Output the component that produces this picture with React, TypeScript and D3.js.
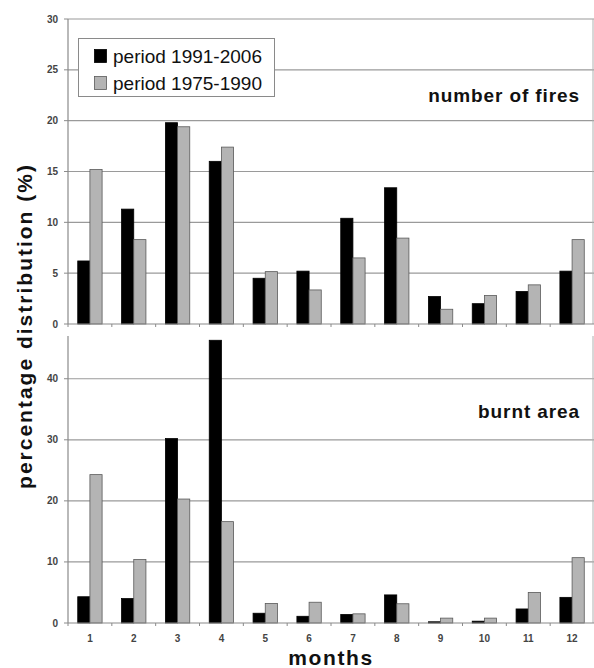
import React from "react";
import * as d3 from "d3";

const months = ["1", "2", "3", "4", "5", "6", "7", "8", "9", "10", "11", "12"];
const seriesNames = ["period 1991-2006", "period 1975-1990"];
const seriesColors = ["#000000", "#b4b4b4"];
const seriesStrokes = ["#000000", "#5a5a5a"];

// number of fires (%)
const firesRecent = [6.2, 11.3, 19.8, 16.0, 4.5, 5.2, 10.4, 13.4, 2.7, 2.0, 3.2, 5.2];
const firesEarlier = [15.2, 8.3, 19.4, 17.4, 5.15, 3.35, 6.5, 8.45, 1.45, 2.8, 3.85, 8.3];

// burnt area (%)
const areaRecent = [4.3, 4.0, 30.2, 46.3, 1.6, 1.1, 1.4, 4.6, 0.2, 0.3, 2.3, 4.2];
const areaEarlier = [24.3, 10.4, 20.3, 16.6, 3.2, 3.4, 1.5, 3.15, 0.8, 0.8, 5.0, 10.7];

const topTicks = [0, 5, 10, 15, 20, 25, 30];
const bottomTicks = [0, 10, 20, 30, 40];

const W = 594;
const H = 668;
const left = 68;
const right = 594;

const x = d3.scaleBand<string>().domain(months).range([left, right]).padding(0);
const xInner = d3
  .scaleBand<number>()
  .domain([0, 1])
  .range([0, x.bandwidth()])
  .paddingOuter(0.8)
  .paddingInner(0);

const yTop = d3.scaleLinear().domain([0, 30]).range([324, 19]);
const yBot = d3.scaleLinear().domain([0, 47]).range([623, 336]);

const font = "'Liberation Sans', Arial, sans-serif";

type PanelProps = {
  y: d3.ScaleLinear<number, number>;
  ticks: number[];
  data: number[][];
  title: string;
  titleY: number;
  showMonthLabels: boolean;
};

function Panel({ y, ticks, data, title, titleY, showMonthLabels }: PanelProps) {
  const [y0, y1] = y.range();
  return (
    <g>
      {ticks
        .filter((t) => t > 0)
        .map((t) => (
          <line
            key={"g" + t}
            x1={left}
            x2={right}
            y1={y(t)}
            y2={y(t)}
            stroke="#9a9a9a"
            strokeWidth={1.2}
          />
        ))}
      {ticks.map((t) => (
        <g key={"t" + t}>
          <line x1={left - 4} x2={left} y1={y(t)} y2={y(t)} stroke="#8a8a8a" />
          <text
            x={left - 10}
            y={y(t)}
            dy="0.35em"
            textAnchor="end"
            fontFamily={font}
            fontSize={10}
            fontWeight="bold"
            fill="#444"
          >
            {t}
          </text>
        </g>
      ))}
      <line x1={left} x2={left} y1={y0} y2={y1} stroke="#8a8a8a" strokeWidth={1.2} />
      <line x1={right - 1} x2={right - 1} y1={y0} y2={y1} stroke="#b0b0b0" strokeWidth={1} />
      {data.map((vals, s) =>
        vals.map((v, i) => (
          <rect
            key={s + "-" + i}
            x={(x(months[i]) as number) + (xInner(s) as number)}
            y={y(v)}
            width={xInner.bandwidth()}
            height={y0 - y(v)}
            fill={seriesColors[s]}
            stroke={seriesStrokes[s]}
            strokeWidth={0.8}
          />
        ))
      )}
      <line x1={left} x2={right} y1={y0} y2={y0} stroke="#8a8a8a" strokeWidth={1.2} />
      {months.map((m) => (
        <line
          key={"xt" + m}
          x1={x(m) as number}
          x2={x(m) as number}
          y1={y0}
          y2={y0 + 3}
          stroke="#8a8a8a"
        />
      ))}
      {showMonthLabels &&
        months.map((m) => (
          <text
            key={"xl" + m}
            x={(x(m) as number) + x.bandwidth() / 2}
            y={y0 + 19}
            textAnchor="middle"
            fontFamily={font}
            fontSize={10}
            fontWeight="bold"
            fill="#444"
          >
            {m}
          </text>
        ))}
      <text
        x={580}
        y={titleY}
        textAnchor="end"
        fontFamily={font}
        fontSize={19}
        fontWeight="bold"
        letterSpacing={0.9}
        fill="#111"
      >
        {title}
      </text>
    </g>
  );
}

export default function App() {
  return (
    <svg width={W} height={H} style={{ display: "block", position: "absolute", left: 0, top: 0 }}>
      <rect width={W} height={H} fill="#fff" />
      <Panel
        y={yTop}
        ticks={topTicks}
        data={[firesRecent, firesEarlier]}
        title="number of fires"
        titleY={102}
        showMonthLabels={false}
      />
      <Panel
        y={yBot}
        ticks={bottomTicks}
        data={[areaRecent, areaEarlier]}
        title="burnt area"
        titleY={418}
        showMonthLabels={true}
      />
      {/* legend */}
      <g>
        <rect x={78.5} y={38.5} width={196} height={58} fill="#fff" stroke="#8a8a8a" strokeWidth={1} />
        {seriesNames.map((n, i) => (
          <g key={n}>
            <rect
              x={94.5}
              y={49.5 + i * 27}
              width={12}
              height={13}
              fill={seriesColors[i]}
              stroke={seriesStrokes[i]}
              strokeWidth={0.8}
            />
            <text x={113} y={63 + i * 27} fontFamily={font} fontSize={19} fill="#111">
              {n}
            </text>
          </g>
        ))}
      </g>
      <text
        transform="translate(32,326) rotate(-90)"
        textAnchor="middle"
        fontFamily={font}
        fontSize={21}
        fontWeight="bold"
        letterSpacing={2}
        fill="#111"
      >
        percentage distribution (%)
      </text>
      <text
        x={331}
        y={665}
        textAnchor="middle"
        fontFamily={font}
        fontSize={21}
        fontWeight="bold"
        letterSpacing={1.6}
        fill="#111"
      >
        months
      </text>
    </svg>
  );
}
